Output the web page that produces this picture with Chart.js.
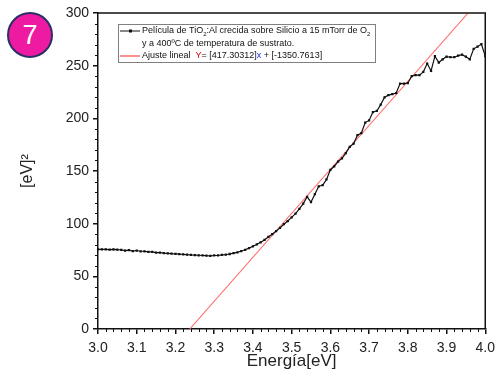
<!DOCTYPE html>
<html>
<head>
<meta charset="utf-8">
<script src="https://cdn.jsdelivr.net/npm/chart.js@4.4.0/dist/chart.umd.min.js"></script>
<style>
  html, body { margin: 0; padding: 0; background: #fff; }
  #wrap { position: relative; width: 501px; height: 387px; }
  #badge {
    position: absolute; left: 7px; top: 12px; width: 42px; height: 42px;
    border-radius: 50%; background: #ee1aa2; border: 2px solid #2a2f66;
    color: #fff; font: 27px "Liberation Sans", Arial, sans-serif;
    display: flex; align-items: center; justify-content: center;
  }
</style>
</head>
<body>
<div id="wrap">
  <canvas id="myChart" width="501" height="387"></canvas>
  <div id="badge">7</div>
</div>
<script>
// energy axis (eV), one point every 0.01
var energia = [];
for (var i = 0; i <= 100; i++) energia.push(+(3 + i / 100).toFixed(2));

// [eV]^2 values
var valores = [
  75.5, 75.5, 75.5, 75.4, 75.5, 75.3, 75.2, 74.5, 74.8, 74.0,
  74.5, 73.8, 73.8, 73.2, 73.3, 72.5, 72.5, 72.0, 71.8, 71.5,
  71.3, 71.0, 70.8, 70.5, 70.3, 70.2, 70.0, 69.8, 69.6, 69.5,
  69.8, 69.8, 70.3, 70.5, 71.2, 72.0, 72.8, 74.0, 75.2, 76.8,
  78.5, 80.3, 82.3, 84.5, 87.5, 90.0, 93.0, 96.0, 99.5, 102.5,
  106.0, 109.5, 114.0, 119.0, 125.5, 120.5, 128.0, 135.5, 136.5, 142.0,
  151.0, 154.5, 159.0, 162.0, 167.0, 173.0, 176.0, 184.0, 186.0, 196.0,
  198.0, 206.0, 207.0, 213.0, 220.0, 222.0, 223.0, 224.0, 233.0, 233.0,
  233.5, 240.0, 241.0, 241.0, 244.0, 252.0, 245.0, 259.0, 253.0, 256.0,
  258.5, 258.0, 258.0, 259.5, 260.5, 258.5, 256.0, 266.0, 268.0, 270.5,
  259.0
];

// linear fit end points (Y = 417.30312 x - 1350.7613)
var ajusteX = [3.2369, 3.9558];
var ajusteY = [0, 300];

var xTicks = [3.0, 3.1, 3.2, 3.3, 3.4, 3.5, 3.6, 3.7, 3.8, 3.9, 4.0];
var yTicks = [0, 50, 100, 150, 200, 250, 300];

var FONT = '"Liberation Sans", Arial, sans-serif';

var datos = energia.map(function (e, i) { return { x: e, y: valores[i] }; });
var ajuste = ajusteX.map(function (e, i) { return { x: e, y: ajusteY[i] }; });

// box + minor ticks + legend
var extras = {
  id: 'extras',
  afterDraw: function (chart) {
    var ctx = chart.ctx, a = chart.chartArea;
    var xs = chart.scales.x, ys = chart.scales.y;
    ctx.save();
    ctx.strokeStyle = '#111';
    ctx.lineWidth = 1.5;
    ctx.beginPath();
    ctx.moveTo(a.left, a.top); ctx.lineTo(a.right, a.top); ctx.lineTo(a.right, a.bottom);
    ctx.stroke();

    ctx.lineWidth = 1;
    ctx.beginPath();
    for (var k = 0; k <= 50; k++) {
      if (k % 5 === 0) continue;
      var px = Math.round(xs.getPixelForValue(3 + k * 0.02)) + 0.5;
      ctx.moveTo(px, a.bottom); ctx.lineTo(px, a.bottom + 3);
    }
    for (var v = 0; v <= 300; v += 10) {
      if (v % 50 === 0) continue;
      var py = Math.round(ys.getPixelForValue(v)) + 0.5;
      ctx.moveTo(a.left, py); ctx.lineTo(a.left - 3, py);
    }
    ctx.stroke();

    // legend
    var bx = a.left + 20, by = a.top + 11, bw = 257, bh = 38;
    ctx.fillStyle = '#fff';
    ctx.fillRect(bx, by, bw, bh);
    ctx.strokeStyle = '#808080';
    ctx.lineWidth = 1;
    ctx.strokeRect(bx + 0.5, by + 0.5, bw, bh);

    function runs(x, y, parts) {
      ctx.textBaseline = 'middle';
      ctx.textAlign = 'left';
      parts.forEach(function (p) {
        ctx.font = (p.sub ? '6px ' : '9px ') + FONT;
        ctx.fillStyle = p.c || '#111';
        ctx.fillText(p.t, x, p.sub ? y + 3 : y);
        x += ctx.measureText(p.t).width;
      });
    }
    var d0 = chart.data.datasets[0], d1 = chart.data.datasets[1];
    var sx = bx + 2, tx = bx + 24;
    var y1 = by + 7, y2 = by + 20, y3 = by + 32;
    ctx.strokeStyle = d0.borderColor; ctx.lineWidth = 1;
    ctx.beginPath(); ctx.moveTo(sx, y1); ctx.lineTo(sx + 20, y1); ctx.stroke();
    ctx.fillStyle = d0.borderColor; ctx.fillRect(sx + 9, y1 - 1.5, 3, 3);
    runs(tx, y1, [
      { t: 'Película de TiO' }, { t: '2', sub: true },
      { t: ':Al crecida sobre Silicio a 15 mTorr de O' }, { t: '2', sub: true }
    ]);
    runs(tx, y2, [{ t: 'y a 400ºC de temperatura de sustrato.' }]);
    ctx.strokeStyle = d1.borderColor; ctx.lineWidth = 1.5;
    ctx.beginPath(); ctx.moveTo(sx, y3); ctx.lineTo(sx + 20, y3); ctx.stroke();
    runs(tx, y3, [
      { t: 'Ajuste lineal  ' }, { t: 'Y', c: '#e00000' }, { t: '= [417.30312]' },
      { t: 'x', c: '#1a1aff' }, { t: ' + [-1350.7613]' }
    ]);
    ctx.restore();
  }
};

new Chart(document.getElementById('myChart'), {
  type: 'scatter',
  data: {
    datasets: [
      {
        label: 'Película de TiO2:Al',
        data: datos,
        showLine: true,
        borderColor: '#111',
        backgroundColor: '#111',
        borderWidth: 1.2,
        pointStyle: 'rect',
        pointRadius: 1.6,
        pointBorderWidth: 0
      },
      {
        label: 'Ajuste lineal',
        data: ajuste,
        showLine: true,
        borderColor: '#ff6b6b',
        borderWidth: 1.1,
        pointRadius: 0
      }
    ]
  },
  plugins: [extras],
  options: {
    responsive: false,
    animation: false,
    layout: { padding: { left: 0, right: 10, top: 13, bottom: 0 } },
    plugins: { legend: { display: false }, tooltip: { enabled: false } },
    scales: {
      x: {
        type: 'linear', min: 3.0, max: 4.0,
        afterFit: function (s) { s.height = 58; },
        afterBuildTicks: function (s) { s.ticks = xTicks.map(function (v) { return { value: v }; }); },
        ticks: {
          font: { family: FONT, size: 14 }, color: '#222', padding: 6,
          callback: function (v) { return v.toFixed(1); }
        },
        grid: { display: true, drawOnChartArea: false, drawTicks: true, tickLength: 5, color: '#111', lineWidth: 1.5 },
        border: { display: true, color: '#111', width: 1.5 },
        title: { display: true, text: 'Energía[eV]', color: '#222', font: { family: FONT, size: 17 }, padding: { top: 0, bottom: 15 } }
      },
      y: {
        type: 'linear', min: 0, max: 300,
        afterFit: function (s) { s.width = 98; },
        afterBuildTicks: function (s) { s.ticks = yTicks.map(function (v) { return { value: v }; }); },
        ticks: { font: { family: FONT, size: 14 }, color: '#222', padding: 4 },
        grid: { display: true, drawOnChartArea: false, drawTicks: true, tickLength: 5, color: '#111', lineWidth: 1.5 },
        border: { display: true, color: '#111', width: 1.5 },
        title: { display: true, text: '[eV]²', color: '#222', font: { family: FONT, size: 16 }, padding: { top: 18, bottom: 0 } }
      }
    }
  }
});
</script>
</body>
</html>
